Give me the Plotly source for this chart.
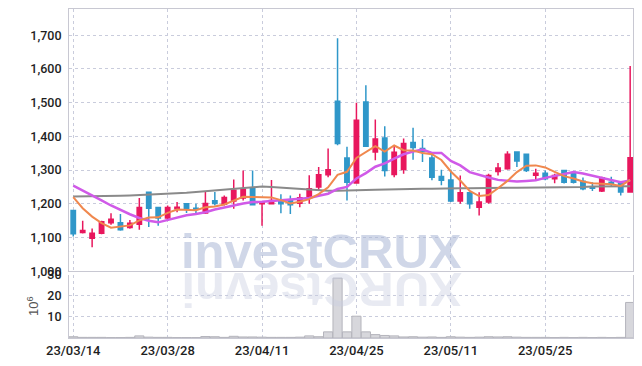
import plotly.graph_objects as go

dates = ["23/03/14","23/03/15","23/03/16","23/03/17","23/03/20","23/03/21","23/03/22","23/03/23","23/03/24","23/03/27",
         "23/03/28","23/03/29","23/03/30","23/03/31","23/04/03","23/04/04","23/04/05","23/04/06","23/04/07","23/04/10",
         "23/04/11","23/04/12","23/04/13","23/04/14","23/04/17","23/04/18","23/04/19","23/04/20","23/04/21","23/04/24",
         "23/04/25","23/04/26","23/04/27","23/04/28","23/05/02","23/05/03","23/05/04","23/05/08","23/05/09","23/05/10",
         "23/05/11","23/05/12","23/05/15","23/05/16","23/05/17","23/05/18","23/05/19","23/05/22","23/05/23","23/05/24",
         "23/05/25","23/05/26","23/05/30","23/05/31","23/06/01","23/06/02","23/06/05","23/06/07","23/06/08","23/06/09"]

opens = [1180,1115,1098,1113,1144,1144,1130,1139,1234,1189,
         1158,1185,1200,1187,1173,1209,1199,1208,1217,1247,
         1200,1200,1210,1210,1202,1220,1250,1286,1504,1336,
         1262,1502,1354,1395,1287,1302,1382,1364,1336,1281,
         1271,1208,1233,1190,1205,1296,1304,1354,1347,1285,
         1291,1274,1299,1291,1267,1250,1238,1264,1262,1235]
highs = [1180,1150,1127,1150,1172,1170,1152,1217,1235,1190,
         1195,1205,1200,1200,1237,1235,1225,1272,1299,1299,
         1208,1271,1228,1225,1230,1285,1309,1364,1691,1369,
         1500,1552,1450,1430,1374,1394,1426,1392,1354,1301,
         1301,1284,1233,1234,1289,1321,1356,1356,1347,1304,
         1299,1289,1301,1291,1278,1264,1280,1280,1262,1609]
lows = [1103,1112,1071,1110,1138,1120,1126,1123,1131,1135,
        1154,1175,1173,1173,1170,1195,1195,1185,1210,1195,
        1135,1198,1172,1170,1190,1200,1240,1279,1374,1210,
        1260,1369,1329,1281,1279,1289,1331,1324,1270,1255,
        1205,1200,1185,1165,1200,1284,1301,1309,1294,1271,
        1270,1261,1260,1260,1240,1238,1235,1250,1225,1235]
closes = [1111,1121,1113,1147,1154,1123,1142,1189,1187,1158,
          1189,1190,1185,1184,1201,1201,1219,1240,1243,1197,
          1203,1210,1200,1197,1218,1245,1286,1301,1379,1264,
          1448,1371,1392,1299,1353,1379,1367,1355,1279,1270,
          1208,1233,1200,1205,1284,1306,1347,1327,1299,1291,
          1274,1284,1264,1264,1245,1246,1277,1260,1235,1337]

ma5 = [1220,1187,1162,1143,1129,1132,1136,1151,1159,1160,
       1173,1183,1182,1181,1190,1192,1198,1209,1221,1220,
       1220,1219,1211,1201,1206,1214,1229,1249,1286,1295,
       1336,1353,1371,1355,1373,1359,1358,1351,1347,1330,
       1296,1269,1238,1223,1226,1246,1268,1294,1313,1314,
       1308,1295,1282,1275,1266,1261,1259,1258,1253,1271]
ma10 = [1254,1240,1226,1210,1195,1181,1169,1158,1150,1145,
        1152,1159,1166,1170,1175,1183,1190,1195,1201,1205,
        1206,1208,1210,1211,1213,1217,1224,1230,1244,1250,
        1275,1291,1310,1320,1334,1347,1355,1361,1351,1351,
        1327,1314,1294,1285,1278,1271,1269,1266,1268,1270,
        1277,1282,1288,1294,1290,1284,1277,1270,1264,1269]
ma60 = [1222,1222,1223,1223,1223,1224,1225,1226,1227,1228,
        1229,1231,1233,1235,1237,1239,1241,1243,1246,1249,
        1251,1250,1248,1246,1243,1241,1240,1239,1239,1239,
        1240,1241,1242,1243,1243,1244,1244,1245,1245,1246,
        1246,1246,1246,1247,1247,1247,1248,1248,1248,1249,
        1249,1250,1250,1250,1250,1251,1251,1251,1252,1252]
volume_m = [0.6,0.3,0.3,0.3,0.2,0.2,0.3,1.0,0.4,0.3,
            0.3,0.2,0.2,0.2,0.7,0.6,0.3,0.8,0.5,0.5,
            0.4,0.3,0.3,0.3,0.4,1.0,0.6,2.9,28.3,2.9,
            10.3,2.9,1.6,1.2,1.0,0.5,0.6,0.4,0.5,0.3,
            0.6,0.4,0.3,0.4,0.6,0.5,0.6,0.4,0.3,0.3,
            0.3,0.2,0.3,0.2,0.3,0.2,0.3,0.2,0.3,16.8]

x_ticks = ["23/03/14","23/03/28","23/04/11","23/04/25","23/05/11","23/05/25"]
price_ticks = [1000,1100,1200,1300,1400,1500,1600,1700]
volume_ticks = [10,20,30]

RED = "#e8175d"
BLUE = "#2f97c9"
GRID = "#c9ccdc"
AXIS = "#c8c8d2"
TICK_FONT = dict(family="Roboto", size=12.5, color="#1e1e1e", weight=500)

fig = go.Figure()

fig.add_trace(go.Bar(x=dates, y=volume_m, xaxis="x2", yaxis="y2",
                     marker=dict(color="#d7d7dc", line=dict(color="#b4b4bc", width=1)),
                     hoverinfo="skip"))

fig.add_trace(go.Scatter(x=dates, y=ma60, mode="lines", line=dict(color="#8a8a8a", width=2), hoverinfo="skip"))
fig.add_trace(go.Scatter(x=dates, y=ma10, mode="lines", line=dict(color="#d05ae8", width=2.5), hoverinfo="skip"))
fig.add_trace(go.Scatter(x=dates, y=ma5, mode="lines", line=dict(color="#f0884e", width=2), hoverinfo="skip"))

fig.add_trace(go.Candlestick(x=dates, open=opens, high=highs, low=lows, close=closes,
                             increasing=dict(line=dict(color=RED, width=1.5), fillcolor=RED),
                             decreasing=dict(line=dict(color=BLUE, width=1.5), fillcolor=BLUE),
                             whiskerwidth=0, hoverinfo="skip"))

xrange = [-0.45, 59.3]
common_x = dict(type="category", range=xrange, showgrid=True, gridcolor=GRID, griddash="dot", gridwidth=1,
                tickvals=x_ticks, zeroline=False, automargin=False)

# page body has an 8px margin: figure sized so the plot lands where the reference has it
fig.update_layout(
    width=634, height=358,
    margin=dict(l=61, r=9, t=1, b=28, autoexpand=False),
    paper_bgcolor="white", plot_bgcolor="white",
    showlegend=False,
    bargap=0.03,
    boxgap=0.34,
    xaxis=dict(**common_x, domain=[0, 1], anchor="y", showticklabels=False,
               rangeslider=dict(visible=False), showline=True, linecolor=AXIS, mirror=True, ticks=""),
    yaxis=dict(domain=[0.203, 1], range=[1000, 1778], tickvals=price_ticks, tickformat=",",
               showgrid=True, gridcolor=GRID, griddash="dot", zeroline=False, automargin=False,
               showline=True, linecolor=AXIS, mirror=True,
               ticks="outside", ticklen=4, tickcolor="rgba(0,0,0,0)", tickfont=TICK_FONT),
    xaxis2=dict(**common_x, domain=[0, 1], anchor="y2", matches="x", showline=True, linecolor=AXIS,
                ticks="", tickfont=dict(family="Roboto", size=13, color="#1e1e1e", weight=500)),
    yaxis2=dict(domain=[0, 0.193], range=[0, 30], tickvals=volume_ticks, automargin=False,
                showgrid=True, gridcolor=GRID, griddash="dot", zeroline=False,
                showline=True, linecolor=AXIS, mirror=True,
                ticks="outside", ticklen=4, tickcolor="rgba(0,0,0,0)", tickfont=TICK_FONT,
                title=dict(text="10<sup>6</sup>", font=dict(family="Liberation Sans", size=13, color="#555"),
                           standoff=5)),
)

wm_x = (321 - 69) / 563
fig.add_annotation(text="investCRUX", xref="paper", yref="paper", x=wm_x, y=(338 - 251) / 329,
                   xanchor="center", yanchor="middle", showarrow=False,
                   font=dict(family="Liberation Sans", size=49, color="rgba(170,182,214,0.55)", weight="bold"))
fig.add_annotation(text="XURCtsevni", xref="paper", yref="paper", x=wm_x, y=(338 - 290) / 329,
                   xanchor="center", yanchor="middle", showarrow=False, textangle=180,
                   font=dict(family="Liberation Sans", size=49, color="rgba(200,205,225,0.42)", weight="bold"))

fig.write_html("out.html")
